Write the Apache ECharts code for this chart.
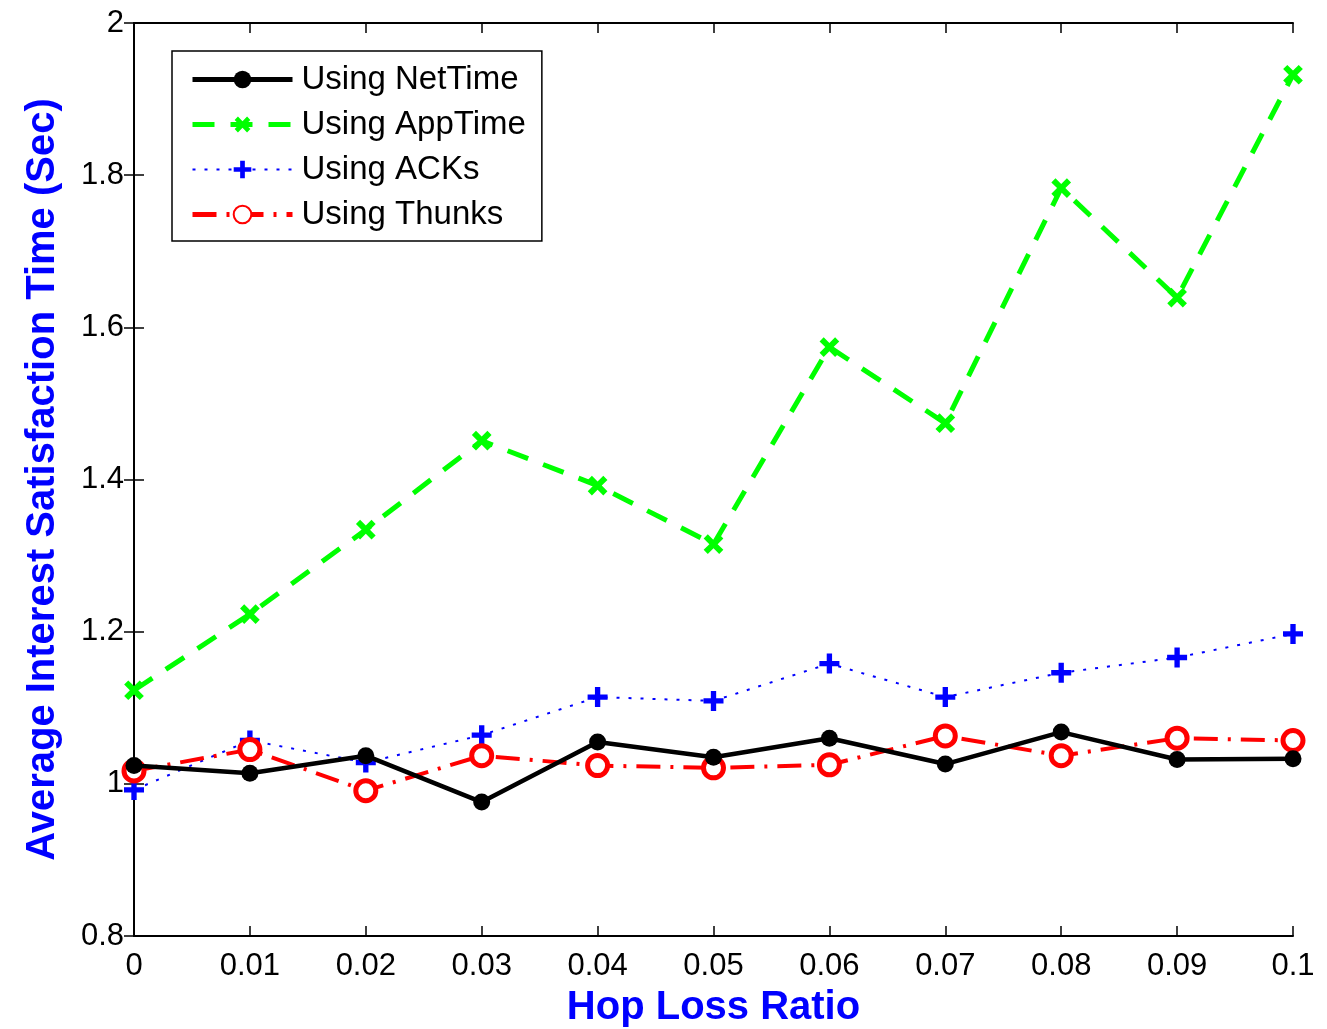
<!DOCTYPE html>
<html style="height: 100%">
<head>
    <meta charset="utf-8">
    <script src="https://cdn.jsdelivr.net/npm/echarts@6/dist/echarts.min.js"></script>
</head>
<body style="height: 100%; margin: 0; background-color: #fff">
<div id="container" style="height: 1029px; width: 1327px"></div>
<script type="text/javascript">
    var hopLoss = [0, 0.01, 0.02, 0.03, 0.04, 0.05, 0.06, 0.07, 0.08, 0.09, 0.1];
    var netTime = [1.024, 1.014, 1.037, 0.976, 1.055, 1.035, 1.060, 1.026, 1.068, 1.032, 1.033];
    var appTime = [1.123, 1.223, 1.334, 1.451, 1.392, 1.315, 1.574, 1.474, 1.783, 1.639, 1.932];
    var acks    = [0.992, 1.057, 1.028, 1.064, 1.114, 1.109, 1.158, 1.114, 1.146, 1.166, 1.197];
    var thunks  = [1.017, 1.045, 0.991, 1.037, 1.024, 1.021, 1.025, 1.063, 1.037, 1.060, 1.057];

    var plusPath = 'path://M-0.8,-3 L0.8,-3 L0.8,-0.8 L3,-0.8 L3,0.8 L0.8,0.8 L0.8,3 L-0.8,3 L-0.8,0.8 L-3,0.8 L-3,-0.8 L-0.8,-0.8Z';

    function pairs(ys) {
        return ys.map(function (y, i) { return [hopLoss[i], y]; });
    }

    var dom = document.getElementById('container');
    var myChart = echarts.init(dom);
    var font = 'Liberation Sans, Arial, Helvetica, sans-serif';
    var green = '#00ff00';

    var option = {
        animation: false,
        grid: { left: 134, right: 34, top: 23, bottom: 93, outerBoundsMode: 'none' },
        legend: {
            orient: 'vertical',
            left: 172,
            top: 51,
            padding: [12, 16, 10, 18],
            itemGap: 12,
            itemWidth: 100,
            itemHeight: 22,
            borderColor: '#000',
            borderWidth: 1.5,
            backgroundColor: '#fff',
            textStyle: { fontSize: 33, color: '#000', fontFamily: font, padding: [0, 0, 0, 4] },
            data: [
                { name: 'Using NetTime', lineStyle: { width: 5 } },
                { name: 'Using AppTime', lineStyle: { width: 5 } },
                { name: 'Using ACKs', lineStyle: { width: 2 } },
                { name: 'Using Thunks', lineStyle: { width: 5 } }
            ]
        },
        xAxis: [{
            type: 'value',
            min: 0, max: 0.1, interval: 0.01,
            name: 'Hop Loss Ratio',
            nameLocation: 'middle',
            nameGap: 52,
            nameTextStyle: { color: '#0000ff', fontSize: 40, fontWeight: 'bold', fontFamily: font },
            axisLine: { lineStyle: { color: '#000', width: 2 } },
            axisTick: { inside: true, length: 10, lineStyle: { color: '#000', width: 1.5 } },
            axisLabel: {
                color: '#000', fontSize: 31, fontFamily: font, margin: 15,
                formatter: function (v) { return String(+v.toFixed(2)); }
            },
            splitLine: { show: false }
        }, {
            type: 'value', position: 'top',
            min: 0, max: 0.1, interval: 0.01,
            axisLine: { lineStyle: { color: '#000', width: 2 } },
            axisTick: { inside: true, length: 10, lineStyle: { color: '#000', width: 1.5 } },
            axisLabel: { show: false },
            splitLine: { show: false }
        }],
        yAxis: [{
            type: 'value',
            min: 0.8, max: 2, interval: 0.2,
            name: 'Average Interest Satisfaction Time (Sec)',
            nameLocation: 'middle',
            nameGap: 71,
            nameTextStyle: { color: '#0000ff', fontSize: 40, fontWeight: 'bold', fontFamily: font },
            axisLine: { lineStyle: { color: '#000', width: 2 } },
            axisTick: { inside: true, length: 10, lineStyle: { color: '#000', width: 1.5 } },
            axisLabel: {
                color: '#000', fontSize: 31, fontFamily: font, margin: 10,
                formatter: function (v) { return String(+v.toFixed(1)); }
            },
            splitLine: { show: false }
        }, {
            type: 'value', position: 'right',
            min: 0.8, max: 2, interval: 0.2,
            axisLine: { lineStyle: { color: '#000', width: 2 } },
            axisTick: { inside: true, length: 10, lineStyle: { color: '#000', width: 1.5 } },
            axisLabel: { show: false },
            splitLine: { show: false }
        }],
        series: [{
            name: 'Using AppTime',
            type: 'line',
            data: pairs(appTime),
            symbol: plusPath,
            symbolRotate: 45,
            symbolSize: 22,
            itemStyle: { color: green },
            lineStyle: { color: green, width: 5, type: [22, 16] },
            z: 2
        }, {
            name: 'Using ACKs',
            type: 'line',
            data: pairs(acks),
            symbol: plusPath,
            symbolSize: 20,
            itemStyle: { color: '#0000ff' },
            lineStyle: { color: '#0000ff', width: 2, type: [3, 9] },
            z: 3
        }, {
            name: 'Using Thunks',
            type: 'line',
            data: pairs(thunks),
            symbol: 'circle',
            symbolSize: 20,
            itemStyle: { color: '#fff', borderColor: '#ff0000', borderWidth: 5 },
            lineStyle: { color: '#ff0000', width: 4, type: [24, 10, 3, 10] },
            z: 4
        }, {
            name: 'Using NetTime',
            type: 'line',
            data: pairs(netTime),
            symbol: 'circle',
            symbolSize: 17,
            itemStyle: { color: '#000' },
            lineStyle: { color: '#000', width: 4.5 },
            z: 5
        }]
    };
    if (option && typeof option === 'object') {
        myChart.setOption(option, true);
    }
</script>
</body>
</html>
